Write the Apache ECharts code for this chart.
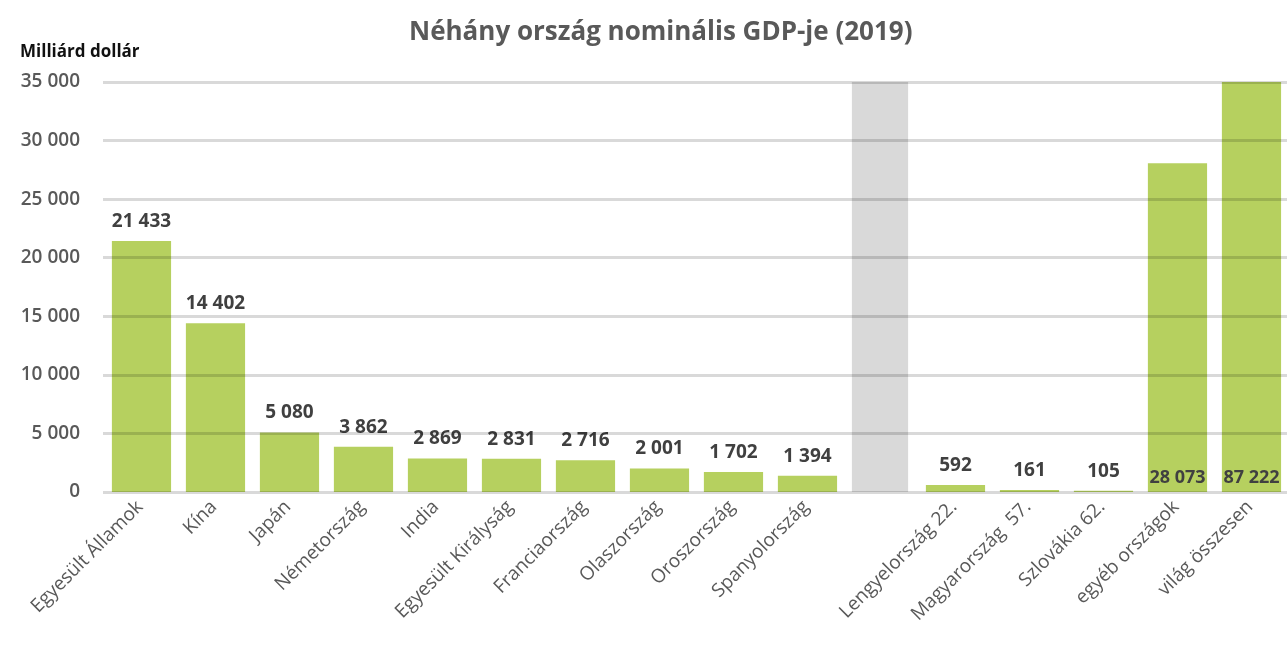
<!DOCTYPE html>
<html>
<head>
<meta charset="utf-8">
<script src="https://cdn.jsdelivr.net/npm/echarts@6/dist/echarts.min.js"></script>
<style>html,body{margin:0;padding:0;background:#fff}#chart{width:1287px;height:646px}</style>
</head>
<body>
<div id="chart"></div>
<script>
// Nominal GDP by country, 2019 (billion USD)
const categories = ['Egyesült Államok', 'Kína', 'Japán', 'Németország', 'India', 'Egyesült Királyság',
  'Franciaország', 'Olaszország', 'Oroszország', 'Spanyolország', '',
  'Lengyelország 22.', 'Magyarország  57.', 'Szlovákia 62.', 'egyéb országok', 'világ összesen'];
const gdpValues = [21433, 14402, 5080, 3862, 2869, 2831, 2716, 2001, 1702, 1394, null,
  592, 161, 105, 28073, 87222];
// separator column between the top ten and the rest
const separatorValues = [null, null, null, null, null, null, null, null, null, null, 35000,
  null, null, null, null, null];
const yTicks = { min: 0, max: 35000, interval: 5000 };

const fmt = v => String(v).replace(/\B(?=(\d{3})+(?!\d))/g, ' ');
const FONT = '"Open Sans", "Noto Sans", sans-serif';

const mainData = gdpValues.map((v, i) => {
  if (v == null) return null;
  const inside = i >= 14;
  return {
    value: v,
    label: inside ? { position: 'insideBottom', distance: 5, fontSize: 18, fontWeight: 'bold', color: '#404040' } : undefined
  };
});

const chart = echarts.init(document.getElementById('chart'));
chart.setOption({
  animation: false,
  textStyle: { fontFamily: FONT },
  title: [
    { text: 'Néhány ország nominális GDP-je (2019)', left: 404, top: 15,
      textStyle: { fontFamily: FONT, fontSize: 26, fontWeight: 'bold', color: '#595959' } },
    { text: 'Milliárd dollár', left: 15, top: 39,
      textStyle: { fontFamily: FONT, fontSize: 17, fontWeight: 'bold', color: '#111' } }
  ],
  grid: { left: 103, width: 1192, top: 82, height: 410, containLabel: false },
  xAxis: {
    type: 'category',
    data: categories,
    axisLine: { show: false },
    axisTick: { show: false },
    axisLabel: { interval: 0, rotate: 45, margin: 12, fontSize: 19, color: '#595959', fontFamily: FONT }
  },
  yAxis: {
    type: 'value',
    min: yTicks.min, max: yTicks.max, interval: yTicks.interval,
    z: 10,
    axisLine: { show: false },
    axisTick: { show: false },
    axisLabel: { formatter: fmt, fontSize: 19, fontWeight: 600, color: '#595959', margin: 23, fontFamily: FONT },
    splitLine: { lineStyle: { color: 'rgba(0,0,0,0.15)', width: 3 } }
  },
  series: [
    {
      type: 'bar',
      data: mainData,
      barWidth: '80%',
      barGap: '-100%',
      itemStyle: { color: '#b6d05f' },
      label: { show: true, position: 'top', distance: 10, formatter: p => fmt(p.value),
        fontSize: 19, fontWeight: 'bold', color: '#404040', fontFamily: FONT }
    },
    {
      type: 'bar',
      data: separatorValues,
      barWidth: '76%',
      itemStyle: { color: '#d9d9d9' },
      label: { show: false }
    }
  ]
});
</script>
</body>
</html>
